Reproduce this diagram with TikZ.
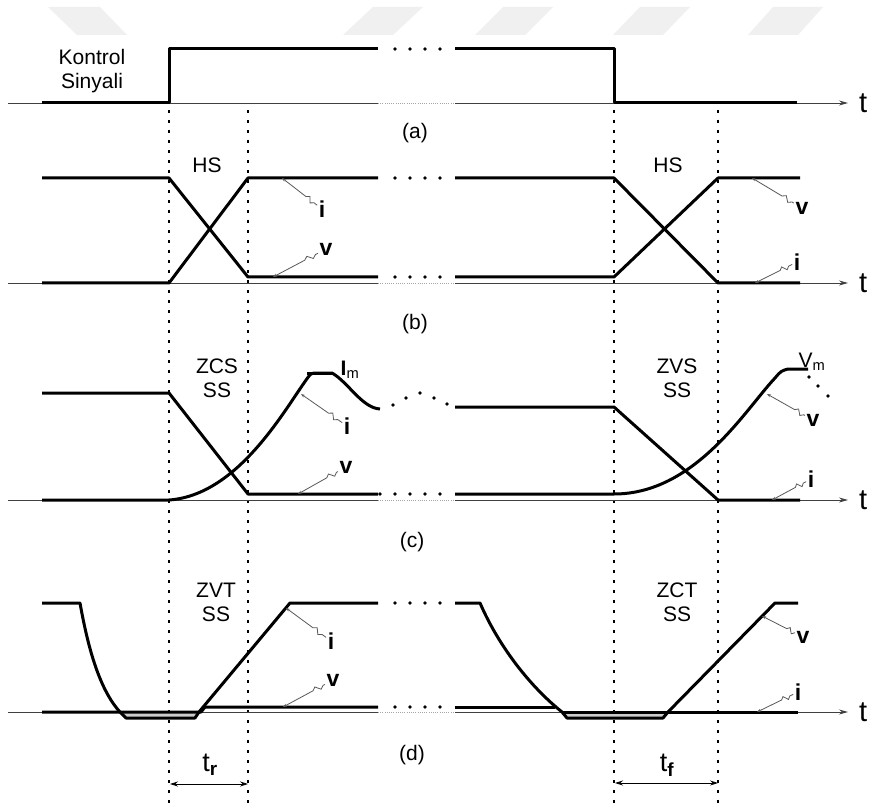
\documentclass[tikz,border=0pt]{standalone}
\usepackage{fontspec}
\setmainfont{Liberation Sans}
\usetikzlibrary{arrows.meta}
\usetikzlibrary{positioning}
\usetikzlibrary{calc}

% leader from a point on a curve to its label, with a small kink
\newcommand{\leadto}[2]{%
  \draw[leadline] (#1) -- ($(#1)!0.6!(#2)$) -- ($(#1)!0.66!(#2)!2.5pt!90:(#2)$)
    -- ($(#1)!0.74!(#2)!2.5pt!-90:(#2)$) -- ($(#1)!0.8!(#2)$) -- (#2);}

\begin{document}
\begin{tikzpicture}[
    x=1pt, y=-1pt,
    sig/.style={line width=3pt, line join=round},  % thick waveforms
    axisline/.style={line width=0.9pt, draw=black!75},
    taxis/.style={axisline, -{Stealth[length=9pt, width=5pt]}},
    gapaxis/.style={line width=0.9pt, draw=black!35, dash pattern=on 1pt off 1.2pt},
    gapdots/.style={line width=3.6pt, line cap=round, dash pattern=on 0pt off 15pt},
    guide/.style={line width=2.6pt, draw=black, dash pattern=on 2.6pt off 7.4pt},
    leadline/.style={line width=0.8pt, draw=black!65, {Stealth[length=4pt, width=3pt]}-},
    lbl/.style={font=\fontsize{21}{24}\selectfont, align=center, inner sep=1pt},
    curlbl/.style={font=\fontsize{23}{26}\selectfont\bfseries, inner sep=1.5pt},
    tlbl/.style={font=\fontsize{29}{32}\selectfont, inner sep=0pt},
    spanarrow/.style={line width=0.8pt, {Stealth[length=8pt, width=5pt]}-{Stealth[length=8pt, width=5pt]}}
]

\useasboundingbox (0,0) rectangle (870,810);
\fill[white] (0,0) rectangle (870,810);

% watermark
\fill[black!6] (48,7) -- (100,7) -- (127,35) -- (77,35) -- cycle;
\fill[black!6] (373,7) -- (423,7) -- (393,35) -- (343,35) -- cycle;
\fill[black!6] (503,7) -- (553,7) -- (525,35) -- (475,35) -- cycle;
\fill[black!6] (640,7) -- (690,7) -- (663,35) -- (613,35) -- cycle;
\fill[black!6] (773,7) -- (823,7) -- (798,35) -- (748,35) -- cycle;

% switching instants
\foreach \gx in {169,248,614,718}
  \draw[guide] (\gx,110) -- (\gx,810);

% time axes
\foreach \ay/\nm in {103/a,283/b,500/c,712/d} {
  \draw[axisline] (8,\ay) -- (378,\ay);
  \draw[gapaxis] (378,\ay) -- (455,\ay);
  \coordinate (end\nm) at (848,\ay);
  \draw[taxis] (455,\ay) -- (end\nm);
  \node[tlbl, right=11pt of end\nm] (t\nm) {t};
}

\node[lbl] (capa) at (415,133) {(a)};
\node[lbl] (capb) at (415,324) {(b)};
\node[lbl] (capc) at (412,542) {(c)};
\node[lbl] (capd) at (412,755) {(d)};

% (a) control signal
\node[lbl] (ctrl) at (92,71) {Kontrol\\Sinyali};
\draw[sig] (42,103) -- (169,103) -- (169,49) -- (378,49);
\draw[sig] (455,49) -- (614,49) -- (614,103) -- (797,103);
\draw[gapdots] (395,49) -- (441,49);

% (b) hard switching
\draw[sig] (42,283) -- (169,283) -- (248,178) -- (378,178);
\draw[sig] (42,178) -- (169,178) -- (248,277) -- (378,277);
\draw[sig] (455,178) -- (614,178) -- (718,283) -- (800,283);
\draw[sig] (455,277) -- (614,277) -- (718,178) -- (800,178);
\draw[gapdots] (395,178) -- (441,178);
\draw[gapdots] (395,277) -- (441,277);
\node[lbl] (hs1) at (207,165) {HS};
\node[lbl] (hs2) at (668,165) {HS};

\coordinate (bi1) at (282,178); \node[curlbl] (lbi1) at (322,209) {i}; \leadto{bi1}{lbi1}
\coordinate (bv1) at (273,277); \node[curlbl] (lbv1) at (326,249) {v}; \leadto{bv1}{lbv1}
\coordinate (bv2) at (752,178); \node[curlbl] (lbv2) at (802,208) {v}; \leadto{bv2}{lbv2}
\coordinate (bi2) at (755,283); \node[curlbl] (lbi2) at (797,262) {i}; \leadto{bi2}{lbi2}

% (c) ZCS / ZVS
\draw[sig] (42,393) -- (169,393) -- (248,494) -- (378,494);
\draw[sig] (42,500) -- (169,500) .. controls (240,495) and (287,405) .. (309,376)
  .. controls (312,373) .. (318,373) -- (332,373) .. controls (348,382) and (362,408) .. (380,409);
\draw[sig] (307,373) -- (332,373);
\draw[sig] (455,407) -- (614,407) -- (718,500) -- (800,500);
\draw[sig] (455,494) -- (614,494) .. controls (695,494) and (745,410) .. (775,378)
  .. controls (781,371) .. (788,369) -- (808,369);
\fill (393,405) circle (1.8pt) (406,398) circle (1.8pt) (420,393) circle (1.8pt)
  (434,398) circle (1.8pt) (447,404) circle (1.8pt);
\draw[gapdots] (380,494) -- (441,494);
\fill (809,377) circle (1.8pt) (818,386) circle (1.8pt) (828,396) circle (1.8pt);
\node[lbl] (zcs) at (217,378) {ZCS\\SS};
\node[lbl] (zvs) at (677,378) {ZVS\\SS};
\node[lbl] (im) at (350,370) {$\mathbf{I}$\textsubscript{m}};
\node[lbl] (vm) at (812,362) {V\textsubscript{m}};

\coordinate (ci1) at (301,394); \node[curlbl] (lci1) at (347,426) {i}; \leadto{ci1}{lci1}
\coordinate (cv1) at (298,494); \node[curlbl] (lcv1) at (346,467) {v}; \leadto{cv1}{lcv1}
\coordinate (cv2) at (767,394); \node[curlbl] (lcv2) at (813,420) {v}; \leadto{cv2}{lcv2}
\coordinate (ci2) at (772,500); \node[curlbl] (lci2) at (811,479) {i}; \leadto{ci2}{lci2}

% (d) ZVT / ZCT
\fill[black!20] (120,712) -- (126,718) -- (195,718) -- (199,712) -- cycle;
\fill[black!20] (562,712) -- (567,718) -- (663,718) -- (668,712) -- cycle;
\draw[sig] (42,712) -- (201,712) -- (205,707) -- (378,707);
\draw[sig] (42,603) -- (80,603) .. controls (87,642) and (98,688) .. (120,712)
  -- (126,718) -- (195,718) -- (199,712) -- (290,603) -- (378,603);
\draw[sig] (455,707) -- (555,707);
\draw[sig] (562,712) -- (798,712);
\draw[sig] (455,603) -- (480,603) .. controls (500,649) and (532,688) .. (562,712)
  -- (567,718) -- (663,718) -- (668,712) -- (775,603) -- (798,603);
\draw[gapdots] (395,603) -- (441,603);
\draw[gapdots] (395,707) -- (441,707);
\node[lbl] (zvt) at (216,602) {ZVT\\SS};
\node[lbl] (zct) at (677,602) {ZCT\\SS};

\coordinate (di1) at (286,608); \node[curlbl] (ldi1) at (331,641) {i}; \leadto{di1}{ldi1}
\coordinate (dv1) at (283,707); \node[curlbl] (ldv1) at (333,680) {v}; \leadto{dv1}{ldv1}
\coordinate (dv2) at (762,616); \node[curlbl] (ldv2) at (803,637) {v}; \leadto{dv2}{ldv2}
\coordinate (di2) at (757,712); \node[curlbl] (ldi2) at (798,692) {i}; \leadto{di2}{ldi2}

% rise and fall times
\coordinate (tr1) at (170,784);
\coordinate (tr2) at (248,784);
\draw[spanarrow] (tr1) -- (tr2);
\node[tlbl, font=\fontsize{27}{30}\selectfont] (trl) at (210,765) {t\textsubscript{\textbf{r}}};
\coordinate (tf1) at (615,783);
\coordinate (tf2) at (718,783);
\draw[spanarrow] (tf1) -- (tf2);
\node[tlbl, font=\fontsize{27}{30}\selectfont] (tfl) at (667,765) {t\textsubscript{\textbf{f}}};

\end{tikzpicture}
\end{document}
